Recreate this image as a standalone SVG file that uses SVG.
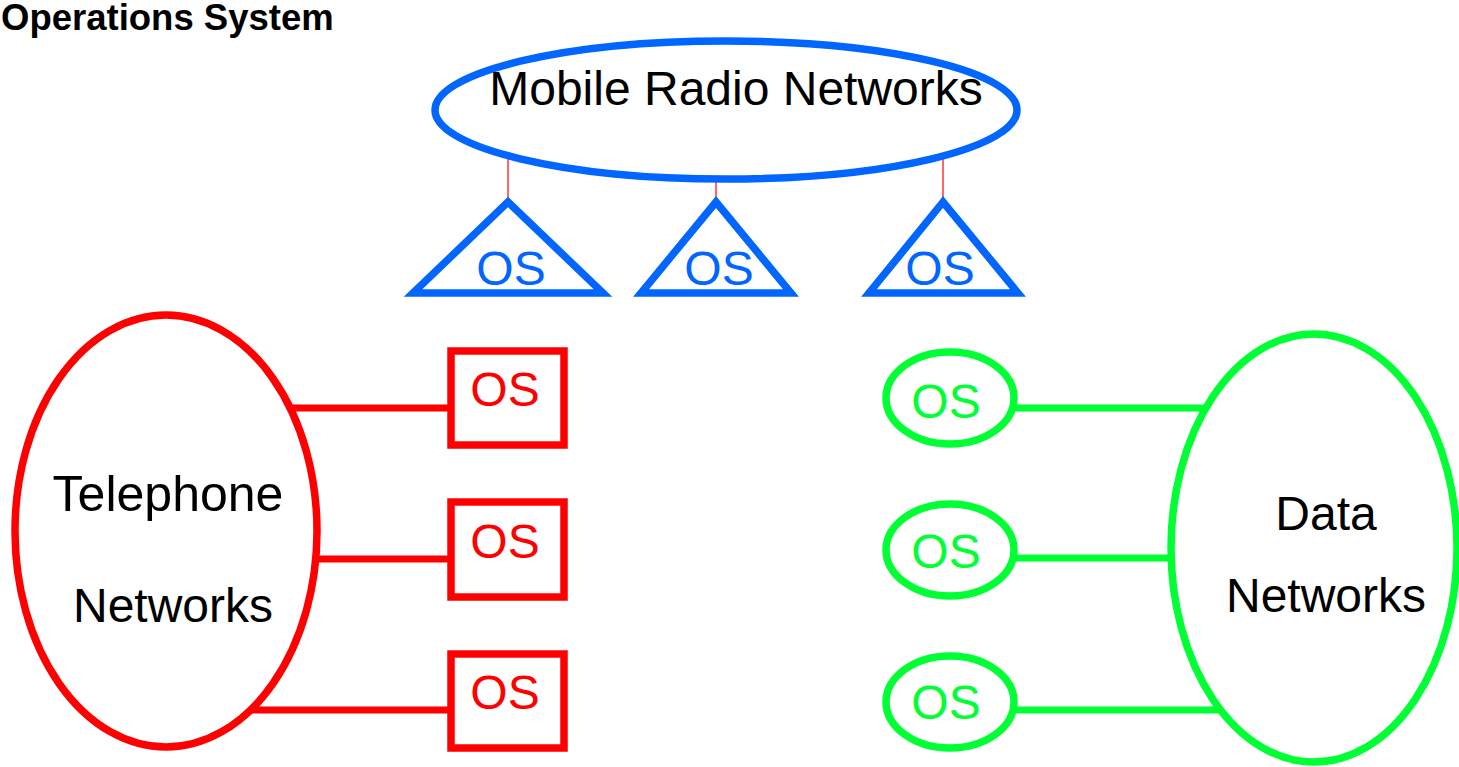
<svg xmlns="http://www.w3.org/2000/svg" width="1459" height="767" viewBox="0 0 1459 767">
  <style>
    text { font-family: "Liberation Sans", Arial, sans-serif; text-anchor: middle; }
    .big { font-size: 48px; fill: #000000; }
    .os { font-size: 48px; }
    .blue { fill: none; stroke: #0066FF; stroke-width: 7.5; }
    .red { fill: none; stroke: #FF0000; stroke-width: 7.5; }
    .green { fill: none; stroke: #00FF33; stroke-width: 7.5; }
    .link-red { stroke: #FF0000; stroke-width: 7; }
    .link-green { stroke: #00FF33; stroke-width: 7; }
    .link-thin { stroke: #FF3333; stroke-width: 1.5; }
  </style>
  <rect width="1459" height="767" fill="#ffffff"/>

  <text id="title" x="1" y="30" style="font-size:36.5px;font-weight:bold;text-anchor:start">Operations System</text>

  <g id="connectors">
    <line class="link-thin" x1="508" y1="156" x2="508" y2="202"/>
    <line class="link-thin" x1="716" y1="179" x2="716" y2="202"/>
    <line class="link-thin" x1="943" y1="156" x2="943" y2="202"/>
    <line class="link-red" x1="290" y1="408" x2="451" y2="408"/>
    <line class="link-red" x1="316" y1="559" x2="451" y2="559"/>
    <line class="link-red" x1="250" y1="710" x2="451" y2="710"/>
    <line class="link-green" x1="1015" y1="408" x2="1206" y2="408"/>
    <line class="link-green" x1="1015" y1="558" x2="1171" y2="558"/>
    <line class="link-green" x1="1015" y1="710" x2="1219" y2="710"/>
  </g>

  <g id="mobile-radio-networks">
    <ellipse class="blue" cx="726" cy="110" rx="291" ry="69"/>
    <text class="big" x="736" y="105">Mobile Radio Networks</text>
  </g>

  <g id="os-tri-1">
    <polygon class="blue" points="508,202 413,293 603,293"/>
    <text class="os" x="511" y="285" fill="#0066FF">OS</text>
  </g>
  <g id="os-tri-2">
    <polygon class="blue" points="716,202 641,293 791,293"/>
    <text class="os" x="719" y="285" fill="#0066FF">OS</text>
  </g>
  <g id="os-tri-3">
    <polygon class="blue" points="943,202 869,293 1018,293"/>
    <text class="os" x="940" y="285" fill="#0066FF">OS</text>
  </g>

  <g id="telephone-networks">
    <ellipse class="red" cx="166" cy="531" rx="151" ry="216"/>
    <text class="big" x="168" y="511" style="font-size:50px">Telephone</text>
    <text class="big" x="173" y="622">Networks</text>
  </g>

  <g id="os-box-1">
    <rect class="red" x="451" y="351" width="113" height="94"/>
    <text class="os" x="505" y="406" fill="#FF0000">OS</text>
  </g>
  <g id="os-box-2">
    <rect class="red" x="451" y="502" width="113" height="95"/>
    <text class="os" x="505" y="558" fill="#FF0000">OS</text>
  </g>
  <g id="os-box-3">
    <rect class="red" x="451" y="654" width="113" height="94"/>
    <text class="os" x="505" y="709" fill="#FF0000">OS</text>
  </g>

  <g id="os-oval-1">
    <ellipse class="green" cx="950" cy="398" rx="64" ry="46"/>
    <text class="os" x="946" y="418" fill="#00FF33">OS</text>
  </g>
  <g id="os-oval-2">
    <ellipse class="green" cx="950" cy="550" rx="64" ry="46"/>
    <text class="os" x="946" y="568" fill="#00FF33">OS</text>
  </g>
  <g id="os-oval-3">
    <ellipse class="green" cx="950" cy="702" rx="64" ry="46"/>
    <text class="os" x="946" y="719" fill="#00FF33">OS</text>
  </g>

  <g id="data-networks">
    <ellipse class="green" cx="1314" cy="548" rx="143" ry="214"/>
    <text class="big" x="1326" y="530">Data</text>
    <text class="big" x="1326" y="612">Networks</text>
  </g>
</svg>
